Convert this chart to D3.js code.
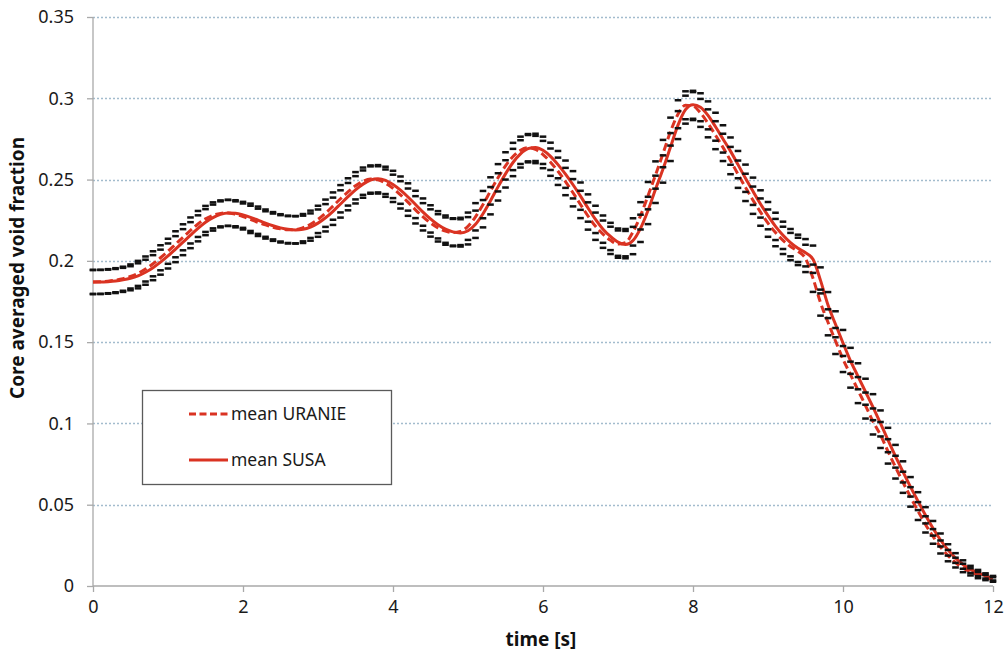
<!DOCTYPE html>
<html>
<head>
<meta charset="utf-8">
<script src="https://cdn.jsdelivr.net/npm/d3@7"></script>
<style>
  html, body { margin: 0; padding: 0; background: #fff; }
  svg { display: block; font-family: "Noto Sans", "Open Sans", sans-serif; }
</style>
</head>
<body>
<svg id="chart" width="1006" height="655"></svg>
<script>
// Sample times (s): one value every 0.1 s from 0 to 12
const times = d3.range(121).map(i => +(i * 0.1).toFixed(1));

// Mean core averaged void fraction, SUSA
const susaMean = [
  0.1870, 0.1870, 0.1872, 0.1876, 0.1883, 0.1893, 0.1908, 0.1930, 0.1958, 0.1992,
  0.2030, 0.2072, 0.2115, 0.2158, 0.2200, 0.2238, 0.2266, 0.2286, 0.2295, 0.2293,
  0.2283, 0.2268, 0.2250, 0.2232, 0.2216, 0.2203, 0.2194, 0.2190, 0.2194, 0.2208,
  0.2232, 0.2265, 0.2305, 0.2350, 0.2395, 0.2437, 0.2472, 0.2497, 0.2505, 0.2495,
  0.2470, 0.2435, 0.2393, 0.2347, 0.2300, 0.2258, 0.2222, 0.2195, 0.2178, 0.2172,
  0.2185, 0.2225, 0.2290, 0.2370, 0.2455, 0.2535, 0.2605, 0.2658, 0.2690, 0.2698,
  0.2680, 0.2643, 0.2592, 0.2533, 0.2468, 0.2398, 0.2325, 0.2255, 0.2195, 0.2150,
  0.2115, 0.2100, 0.2125, 0.2200, 0.2310, 0.2440, 0.2565, 0.2700, 0.2835, 0.2930,
  0.2960, 0.2945, 0.2895, 0.2825, 0.2750, 0.2675, 0.2592, 0.2508, 0.2428, 0.2350,
  0.2278, 0.2212, 0.2157, 0.2112, 0.2077, 0.2050, 0.2010, 0.1880, 0.1728, 0.1610,
  0.1495, 0.1385, 0.1290, 0.1195, 0.1100, 0.1000, 0.0898, 0.0798, 0.0702, 0.0610,
  0.0522, 0.0435, 0.0355, 0.0283, 0.0222, 0.0172, 0.0132, 0.0102, 0.0080, 0.0062,
  0.0048
];

// Mean core averaged void fraction, URANIE
const uranieMean = [
  0.1870, 0.1871, 0.1875, 0.1881, 0.1890, 0.1904, 0.1923, 0.1950, 0.1982, 0.2019,
  0.2059, 0.2102, 0.2145, 0.2187, 0.2227, 0.2258, 0.2280, 0.2292, 0.2295, 0.2286,
  0.2273, 0.2255, 0.2237, 0.2221, 0.2207, 0.2197, 0.2191, 0.2192, 0.2204, 0.2225,
  0.2255, 0.2293, 0.2337, 0.2382, 0.2424, 0.2462, 0.2490, 0.2503, 0.2498, 0.2478,
  0.2446, 0.2406, 0.2361, 0.2314, 0.2271, 0.2233, 0.2203, 0.2183, 0.2174, 0.2181,
  0.2213, 0.2271, 0.2346, 0.2430, 0.2511, 0.2584, 0.2642, 0.2680, 0.2696, 0.2685,
  0.2654, 0.2607, 0.2551, 0.2488, 0.2419, 0.2347, 0.2276, 0.2213, 0.2164, 0.2126,
  0.2103, 0.2112, 0.2178, 0.2277, 0.2401, 0.2528, 0.2660, 0.2795, 0.2902, 0.2957,
  0.2952, 0.2910, 0.2846, 0.2773, 0.2698, 0.2617, 0.2533, 0.2452, 0.2373, 0.2300,
  0.2232, 0.2174, 0.2126, 0.2088, 0.2058, 0.2015, 0.1893, 0.1743, 0.1622, 0.1507,
  0.1396, 0.1300, 0.1205, 0.1110, 0.1012, 0.0929, 0.0828, 0.0731, 0.0638, 0.0548,
  0.0461, 0.0379, 0.0305, 0.0240, 0.0187, 0.0144, 0.0111, 0.0087, 0.0067, 0.0052,
  0.0040
];

// Half-width of the uncertainty band around each mean
const bandHalfWidth = [
  0.0074, 0.0074, 0.0074, 0.0074, 0.0074, 0.0074, 0.0077, 0.0077, 0.0077, 0.0077,
  0.0077, 0.0080, 0.0080, 0.0080, 0.0080, 0.0080, 0.0080, 0.0080, 0.0080, 0.0080,
  0.0080, 0.0084, 0.0084, 0.0084, 0.0084, 0.0084, 0.0084, 0.0084, 0.0084, 0.0084,
  0.0084, 0.0084, 0.0084, 0.0084, 0.0084, 0.0084, 0.0084, 0.0084, 0.0084, 0.0084,
  0.0084, 0.0084, 0.0084, 0.0084, 0.0084, 0.0084, 0.0084, 0.0084, 0.0084, 0.0084,
  0.0084, 0.0084, 0.0084, 0.0084, 0.0084, 0.0084, 0.0084, 0.0084, 0.0084, 0.0084,
  0.0084, 0.0084, 0.0084, 0.0084, 0.0084, 0.0084, 0.0084, 0.0084, 0.0084, 0.0084,
  0.0084, 0.0084, 0.0084, 0.0084, 0.0084, 0.0084, 0.0084, 0.0086, 0.0086, 0.0086,
  0.0086, 0.0086, 0.0086, 0.0086, 0.0084, 0.0084, 0.0084, 0.0084, 0.0084, 0.0084,
  0.0084, 0.0084, 0.0084, 0.0084, 0.0084, 0.0084, 0.0084, 0.0080, 0.0080, 0.0080,
  0.0080, 0.0080, 0.0080, 0.0080, 0.0080, 0.0080, 0.0075, 0.0070, 0.0065, 0.0060,
  0.0055, 0.0050, 0.0045, 0.0040, 0.0035, 0.0030, 0.0026, 0.0022, 0.0019, 0.0016,
  0.0014
];

const xTicks = [0, 2, 4, 6, 8, 10, 12];
const yTicks = [0, 0.05, 0.1, 0.15, 0.2, 0.25, 0.3, 0.35];
const yTickLabels = ["0", "0.05", "0.1", "0.15", "0.2", "0.25", "0.3", "0.35"];

const seriesNames = ["mean URANIE", "mean SUSA"];

const red = "#da3322";
const svg = d3.select("#chart");

const x = d3.scaleLinear().domain([0, 12]).range([93, 993]);
const y = d3.scaleLinear().domain([0, 0.35]).range([586, 17]);

// Horizontal dotted gridlines
svg.append("g")
  .selectAll("line")
  .data(yTicks.filter(v => v > 0))
  .join("line")
  .attr("x1", x(0)).attr("x2", x(12))
  .attr("y1", d => Math.round(y(d)) + 0.5).attr("y2", d => Math.round(y(d)) + 0.5)
  .attr("stroke", "#a3bccd")
  .attr("stroke-width", 1.4)
  .attr("stroke-dasharray", "2,2");

// Axes
const axisColor = "#a9a9a9";
const yAxis = svg.append("g")
  .attr("transform", `translate(${x(0)},0)`)
  .call(d3.axisLeft(y).tickValues(yTicks)
    .tickFormat((d, i) => yTickLabels[i]).tickSize(6).tickPadding(13));
const xAxis = svg.append("g")
  .attr("transform", `translate(0,${y(0)})`)
  .call(d3.axisBottom(x).tickValues(xTicks).tickSize(6).tickPadding(8));

[yAxis, xAxis].forEach(g => {
  g.select(".domain").attr("stroke", axisColor).attr("stroke-width", 1.3);
  g.selectAll(".tick line").attr("stroke", axisColor).attr("stroke-width", 1.3);
  g.selectAll(".tick text")
    .attr("fill", "#1a1a1a")
    .style("font-size", "18px")
    .style("font-family", "'Noto Sans', sans-serif");
});
yAxis.select(".domain").attr("d", `M0,${y(0.35)}V${y(0)}`);
xAxis.select(".domain").attr("d", `M${x(0)},0H${x(12)}`);

// Mean curves
const rows = times.map((t, i) => ({
  t, susa: susaMean[i], uranie: uranieMean[i], h: bandHalfWidth[i]
}));

const lineFor = key => d3.line()
  .x(d => x(d.t))
  .y(d => y(d[key]))
  .curve(d3.curveMonotoneX);

svg.append("path")
  .datum(rows)
  .attr("d", lineFor("uranie"))
  .attr("fill", "none")
  .attr("stroke", red)
  .attr("stroke-width", 3)
  .attr("stroke-dasharray", "8,4");

svg.append("path")
  .datum(rows)
  .attr("d", lineFor("susa"))
  .attr("fill", "none")
  .attr("stroke", red)
  .attr("stroke-width", 3);

// Upper and lower bound markers of each series
const caps = [];
rows.forEach(d => {
  ["uranie", "susa"].forEach(k => {
    caps.push({ t: d.t, v: d[k] + d.h });
    caps.push({ t: d.t, v: d[k] - d.h });
  });
});

svg.append("g")
  .selectAll("line")
  .data(caps)
  .join("line")
  .attr("x1", d => x(d.t) - 3.3).attr("x2", d => x(d.t) + 3.3)
  .attr("y1", d => y(d.v)).attr("y2", d => y(d.v))
  .attr("stroke", "#111")
  .attr("stroke-width", 2.5);

// Axis titles
svg.append("text")
  .attr("transform", `translate(24,268) rotate(-90)`)
  .attr("text-anchor", "middle")
  .style("font-size", "19px")
  .style("font-weight", "bold")
  .attr("fill", "#111")
  .text("Core averaged void fraction");

svg.append("text")
  .attr("x", 541).attr("y", 646)
  .attr("text-anchor", "middle")
  .style("font-size", "19px")
  .style("font-weight", "bold")
  .attr("fill", "#111")
  .text("time [s]");

// Legend
const legend = svg.append("g");
legend.append("rect")
  .attr("x", 142.5).attr("y", 390.5)
  .attr("width", 249).attr("height", 94)
  .attr("fill", "#fff")
  .attr("stroke", "#5a5a5a")
  .attr("stroke-width", 1.3);

seriesNames.forEach((name, i) => {
  const ly = 414 + i * 46;
  legend.append("line")
    .attr("x1", 189).attr("x2", 228)
    .attr("y1", ly).attr("y2", ly)
    .attr("stroke", red)
    .attr("stroke-width", 3)
    .attr("stroke-dasharray", i === 0 ? "7,3.5" : null);
  legend.append("text")
    .attr("x", 231).attr("y", ly)
    .attr("dy", "0.35em")
    .style("font-size", "17.5px")
    .attr("fill", "#1a1a1a")
    .text(name);
});
</script>
</body>
</html>
